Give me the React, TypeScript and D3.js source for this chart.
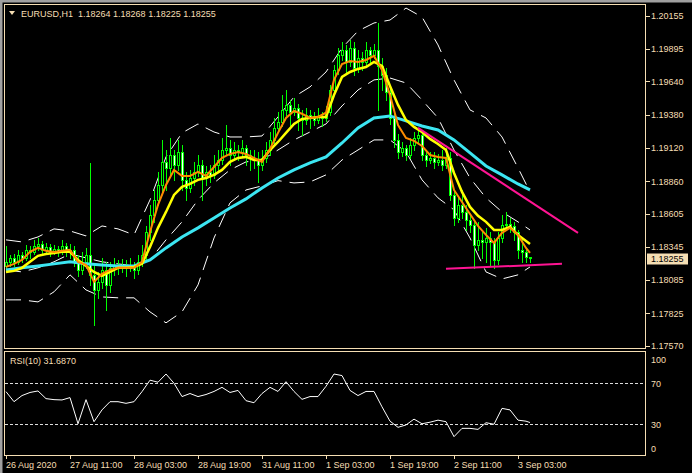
import React from 'react';
import * as d3 from 'd3';

// EURUSD H1, 132 bars from 26 Aug 2020 19:00 to 3 Sep 2020 06:00
const lastBar = 131;

const open = [
  1.18195, 1.18227, 1.18258, 1.18227, 1.18281, 1.18258, 1.18321, 1.18305, 1.18352, 1.18367,
  1.18321, 1.18344, 1.18305, 1.18328, 1.18305, 1.18352, 1.18305, 1.18321, 1.18227, 1.18164,
  1.18227, 1.18281, 1.18125, 1.18007, 1.18070, 1.18164, 1.18046, 1.18180, 1.18195, 1.18180,
  1.18195, 1.18180, 1.18203, 1.18164, 1.18227, 1.18281, 1.18461, 1.18595, 1.18712, 1.18829,
  1.19010, 1.18963, 1.19064, 1.18986, 1.19088, 1.18869, 1.18806, 1.18884, 1.18931, 1.18986,
  1.18884, 1.18931, 1.18908, 1.18986, 1.19025, 1.19103, 1.19119, 1.19064, 1.19103, 1.19088,
  1.19119, 1.19064, 1.19041, 1.19025, 1.18986, 1.19041, 1.19103, 1.19182, 1.19276, 1.19323,
  1.19417, 1.19456, 1.19401, 1.19432, 1.19354, 1.19338, 1.19378, 1.19354, 1.19338, 1.19370,
  1.19354, 1.19401, 1.19573, 1.19730, 1.19847, 1.19887, 1.19793, 1.19902, 1.19746, 1.19824,
  1.19793, 1.19887, 1.19847, 1.19887, 1.19761, 1.19691, 1.19558, 1.19354, 1.19182, 1.19088,
  1.19119, 1.19064, 1.19143, 1.19197, 1.19221, 1.19064, 1.19025, 1.19041, 1.19010, 1.19025,
  1.18986, 1.19041, 1.18751, 1.18571, 1.18673, 1.18618, 1.18555, 1.18516, 1.18360, 1.18399,
  1.18383, 1.18414, 1.18383, 1.18242, 1.18414, 1.18516, 1.18524, 1.18508, 1.18461, 1.18321,
  1.18305, 1.18264,
];
const high = [
  1.18352, 1.18281, 1.18289, 1.18321, 1.18305, 1.18360, 1.18352, 1.18399, 1.18414, 1.18391,
  1.18375, 1.18367, 1.18360, 1.18352, 1.18399, 1.18375, 1.18367, 1.18352, 1.18281, 1.18305,
  1.18336, 1.19002, 1.18203, 1.18148, 1.18258, 1.18227, 1.18227, 1.18258, 1.18242, 1.18250,
  1.18242, 1.18258, 1.18227, 1.18281, 1.18360, 1.18508, 1.18673, 1.18790, 1.18931, 1.19182,
  1.19103, 1.19197, 1.19103, 1.19182, 1.19143, 1.18931, 1.18947, 1.19010, 1.19064, 1.19025,
  1.18978, 1.18986, 1.19064, 1.19103, 1.19197, 1.19299, 1.19182, 1.19166, 1.19143, 1.19182,
  1.19143, 1.19103, 1.19103, 1.19088, 1.19103, 1.19166, 1.19244, 1.19354, 1.19401, 1.19534,
  1.19573, 1.19495, 1.19511, 1.19464, 1.19417, 1.19432, 1.19417, 1.19401, 1.19432, 1.19401,
  1.19448, 1.19612, 1.19769, 1.19902, 1.19949, 1.19926, 1.19965, 1.19949, 1.19887, 1.19871,
  1.19949, 1.19910, 1.19934, 1.20098, 1.19824, 1.19746, 1.19589, 1.19401, 1.19229, 1.19166,
  1.19143, 1.19197, 1.19244, 1.19276, 1.19244, 1.19103, 1.19088, 1.19088, 1.19072, 1.19103,
  1.19119, 1.19088, 1.18790, 1.18743, 1.18790, 1.18673, 1.18595, 1.18540, 1.18540, 1.18477,
  1.18493, 1.18461, 1.18414, 1.18461, 1.18595, 1.18618, 1.18571, 1.18540, 1.18477, 1.18414,
  1.18336, 1.18268,
];
const low = [
  1.18164, 1.18195, 1.18195, 1.18211, 1.18227, 1.18242, 1.18258, 1.18289, 1.18321, 1.18281,
  1.18305, 1.18274, 1.18289, 1.18274, 1.18289, 1.18274, 1.18258, 1.18195, 1.18117, 1.18133,
  1.18180, 1.18046, 1.17733, 1.17945, 1.18023, 1.17851, 1.17992, 1.18125, 1.18133, 1.18148,
  1.18117, 1.18156, 1.18101, 1.18133, 1.18195, 1.18250, 1.18399, 1.18540, 1.18673, 1.18775,
  1.18790, 1.18908, 1.18869, 1.18947, 1.18790, 1.18712, 1.18775, 1.18829, 1.18900, 1.18712,
  1.18829, 1.18853, 1.18884, 1.18931, 1.18994, 1.19064, 1.18986, 1.19025, 1.19025, 1.19056,
  1.18986, 1.18947, 1.18963, 1.18853, 1.18947, 1.19010, 1.19064, 1.19143, 1.19244, 1.19291,
  1.19378, 1.19299, 1.19378, 1.19260, 1.19221, 1.19307, 1.19276, 1.19299, 1.19315, 1.19291,
  1.19331, 1.19378, 1.19534, 1.19699, 1.19808, 1.19714, 1.19761, 1.19691, 1.19714, 1.19730,
  1.19761, 1.19793, 1.19824, 1.19417, 1.19573, 1.19495, 1.19307, 1.19127, 1.19041, 1.19056,
  1.19025, 1.19041, 1.19103, 1.19166, 1.19025, 1.18978, 1.19002, 1.18963, 1.18986, 1.18947,
  1.18963, 1.18712, 1.18516, 1.18540, 1.18571, 1.18477, 1.18461, 1.18180, 1.18321, 1.18258,
  1.18227, 1.18195, 1.18180, 1.18211, 1.18383, 1.18493, 1.18461, 1.18399, 1.18258, 1.18227,
  1.18227, 1.18225,
];
const close = [
  1.18227, 1.18258, 1.18227, 1.18281, 1.18258, 1.18321, 1.18305, 1.18352, 1.18367, 1.18321,
  1.18344, 1.18305, 1.18328, 1.18305, 1.18352, 1.18305, 1.18321, 1.18227, 1.18164, 1.18227,
  1.18281, 1.18125, 1.18007, 1.18070, 1.18164, 1.18046, 1.18180, 1.18195, 1.18180, 1.18195,
  1.18180, 1.18203, 1.18164, 1.18227, 1.18281, 1.18461, 1.18595, 1.18712, 1.18829, 1.19010,
  1.18963, 1.19064, 1.18986, 1.19088, 1.18869, 1.18806, 1.18884, 1.18931, 1.18986, 1.18884,
  1.18931, 1.18908, 1.18986, 1.19025, 1.19103, 1.19119, 1.19064, 1.19103, 1.19088, 1.19119,
  1.19064, 1.19041, 1.19025, 1.18986, 1.19041, 1.19103, 1.19182, 1.19276, 1.19323, 1.19417,
  1.19456, 1.19401, 1.19432, 1.19354, 1.19338, 1.19378, 1.19354, 1.19338, 1.19370, 1.19354,
  1.19401, 1.19573, 1.19730, 1.19847, 1.19887, 1.19793, 1.19902, 1.19746, 1.19824, 1.19793,
  1.19887, 1.19847, 1.19887, 1.19761, 1.19691, 1.19558, 1.19354, 1.19182, 1.19088, 1.19119,
  1.19064, 1.19143, 1.19197, 1.19221, 1.19064, 1.19025, 1.19041, 1.19010, 1.19025, 1.18986,
  1.19041, 1.18751, 1.18571, 1.18673, 1.18618, 1.18555, 1.18516, 1.18360, 1.18399, 1.18383,
  1.18414, 1.18383, 1.18242, 1.18414, 1.18516, 1.18524, 1.18508, 1.18461, 1.18321, 1.18305,
  1.18264, 1.18255,
];

// moving averages, read every 2nd bar
const maBars = [...d3.range(0, lastBar, 2), lastBar];
const fastMa = [
  1.18187, 1.18211, 1.18242, 1.18305, 1.18336, 1.18313, 1.18305, 1.18313, 1.18321, 1.18227,
  1.18203, 1.18070, 1.18133, 1.18164, 1.18180, 1.18180, 1.18180, 1.18227, 1.18461, 1.18673,
  1.18829, 1.18947, 1.18900, 1.18900, 1.18931, 1.18900, 1.18970, 1.19041, 1.19072, 1.19088,
  1.19072, 1.19041, 1.19010, 1.19111, 1.19237, 1.19354, 1.19409, 1.19387, 1.19354, 1.19362,
  1.19395, 1.19652, 1.19777, 1.19800, 1.19793, 1.19808, 1.19840, 1.19730, 1.19534, 1.19299,
  1.19197, 1.19174, 1.19135, 1.19064, 1.19049, 1.19041, 1.18790, 1.18696, 1.18602, 1.18508,
  1.18438, 1.18375, 1.18454, 1.18493, 1.18438, 1.18336, 1.18297,
];
const slowMa = [
  1.18148, 1.18156, 1.18180, 1.18227, 1.18274, 1.18289, 1.18297, 1.18305, 1.18305, 1.18242,
  1.18195, 1.18148, 1.18117, 1.18148, 1.18180, 1.18180, 1.18187, 1.18211, 1.18344, 1.18493,
  1.18618, 1.18751, 1.18814, 1.18837, 1.18869, 1.18884, 1.18908, 1.18947, 1.19010, 1.19041,
  1.19049, 1.19025, 1.19025, 1.19103, 1.19166, 1.19237, 1.19307, 1.19346, 1.19354, 1.19362,
  1.19362, 1.19534, 1.19675, 1.19714, 1.19738, 1.19753, 1.19793, 1.19761, 1.19605, 1.19456,
  1.19338, 1.19284, 1.19244, 1.19190, 1.19150, 1.19103, 1.18923, 1.18775, 1.18657, 1.18587,
  1.18540, 1.18477, 1.18477, 1.18501, 1.18438, 1.18391, 1.18367,
];

// long MA and Bollinger bands, read every 4th bar
const bandBars = [...d3.range(0, 129, 4), lastBar];
const longMa = [
  1.18164, 1.18180, 1.18195, 1.18211, 1.18227, 1.18211, 1.18203, 1.18195, 1.18195, 1.18242,
  1.18336, 1.18422, 1.18493, 1.18571, 1.18649, 1.18720, 1.18806, 1.18884, 1.18947, 1.19002,
  1.19049, 1.19158, 1.19276, 1.19354, 1.19370, 1.19331, 1.19291, 1.19260, 1.19182, 1.19080,
  1.18978, 1.18908, 1.18837, 1.18790,
];
const bandUpper = [
  1.18399, 1.18383, 1.18422, 1.18485, 1.18469, 1.18430, 1.18508, 1.18485, 1.18438, 1.18712,
  1.19049, 1.19237, 1.19307, 1.19244, 1.19205, 1.19205, 1.19213, 1.19362, 1.19519, 1.19597,
  1.19714, 1.19902, 1.20035, 1.20098, 1.20121, 1.20215, 1.20145, 1.19926, 1.19652, 1.19417,
  1.19354, 1.19205, 1.18963, 1.18775,
];
const bandMiddle = [
  1.18164, 1.18148, 1.18180, 1.18227, 1.18289, 1.18258, 1.18227, 1.18211, 1.18195, 1.18242,
  1.18399, 1.18540, 1.18712, 1.18845, 1.18947, 1.19010, 1.19025, 1.19103, 1.19182, 1.19244,
  1.19307, 1.19448, 1.19573, 1.19652, 1.19667, 1.19628, 1.19495, 1.19354, 1.19103, 1.18884,
  1.18728, 1.18618, 1.18540, 1.18477,
];
const bandLower = [
  1.17929, 1.17929, 1.17913, 1.17992, 1.18125, 1.18007, 1.17952, 1.17945, 1.17945, 1.17835,
  1.17749, 1.17835, 1.18046, 1.18414, 1.18689, 1.18790, 1.18822, 1.18863, 1.18845, 1.18853,
  1.18908, 1.19025, 1.19103, 1.19182, 1.19182, 1.19088, 1.18869, 1.18728, 1.18634, 1.18414,
  1.18148, 1.18093, 1.18125, 1.18187,
];

// RSI(10), every 2nd bar
const rsi = [
  61.8, 52, 58, 61, 62.5, 55, 54, 53.7, 56, 30.5,
  54, 32.5, 44, 52, 52, 50.4, 52, 61.8, 73, 71,
  79, 70, 57, 60, 57, 59, 62, 66, 61, 63,
  53, 51, 60, 66, 62, 71.5, 62, 54.3, 57, 57,
  67, 79, 77.5, 63, 58, 62, 62, 47, 33, 27,
  29.3, 35, 30.5, 32, 34, 32.5, 17.9, 26, 26, 25,
  31.5, 30, 45.5, 44, 34, 33, 31.687,
];
const rsiLevels = [70, 30];
const rsiLabels = [100, 70, 30, 0];

// hand-drawn trend lines: [bar, price]
const trendFalling = [[103, 1.19276], [143, 1.18454]];
const trendSupport = [[110, 1.18172], [139, 1.18211]];

const priceTicks = [1.20155, 1.19895, 1.1964, 1.1938, 1.1912, 1.1886, 1.18605, 1.18345, 1.18085, 1.17825, 1.1757];
const timeLabels = ['26 Aug 2020', '27 Aug 11:00', '28 Aug 03:00', '28 Aug 19:00', '31 Aug 11:00', '1 Sep 03:00', '1 Sep 19:00', '2 Sep 11:00', '3 Sep 03:00'];
const timeLabelBars = [0, 16, 32, 48, 64, 80, 96, 112, 128];

const FG = '#F5DEB3';
const FONT = "'Liberation Sans', Arial, sans-serif";

export default function App() {
  const x = d3.scaleLinear().domain([0, lastBar]).range([6, 530]);
  const y = d3.scaleLinear().domain([1.1757, 1.20155]).range([345.7, 15.7]);
  const yRsi = d3.scaleLinear().domain([0, 100]).range([455, 352.5]);

  const path = (bars: number[], vals: number[], sy: (v: number) => number) =>
    d3.line<number>().x((_, i) => x(bars[i])).y(d => sy(d))(vals) || '';

  const trend = (pts: number[][]) =>
    d3.line<number[]>().x(d => x(d[0])).y(d => y(d[1]))(pts) || '';

  const last = close[lastBar];

  return (
    <svg
      width={692}
      height={473}
      style={{ position: 'absolute', left: 0, top: 0, display: 'block', background: '#000' }}
      fontFamily={FONT}
      fontSize={9}
    >
      <defs>
        <clipPath id='mainClip'>
          <rect x={5} y={5} width={640} height={343} />
        </clipPath>
        <clipPath id='rsiClip'>
          <rect x={5} y={352} width={640} height={103} />
        </clipPath>
      </defs>
      <rect width={692} height={473} fill='#000' />
      <rect x={0} y={0} width={692} height={2.5} fill='#a0a0a0' />
      <rect x={0} y={0} width={2.5} height={473} fill='#a0a0a0' />

      {/* main window */}
      <g clipPath='url(#mainClip)'>
        {[bandUpper, bandMiddle, bandLower].map((b, k) => (
          <path key={k} d={path(bandBars, b, y)} fill='none' stroke='#fff' strokeWidth={1} strokeDasharray='15 8' />
        ))}
        {close.map((c, i) => {
          const cx = Math.round(x(i));
          const o = open[i];
          const top = Math.round(y(Math.max(o, c)));
          const bot = Math.round(y(Math.min(o, c)));
          const bear = c < o;
          return (
            <g key={i} shapeRendering='crispEdges'>
              <line x1={cx + 0.5} x2={cx + 0.5} y1={Math.round(y(high[i]))} y2={Math.round(y(low[i])) + 1} stroke='#00ff00' />
              {bot - top < 1 ? (
                <line x1={cx - 1} x2={cx + 2} y1={top + 0.5} y2={top + 0.5} stroke='#00ff00' />
              ) : (
                <rect x={cx - 0.5} y={top + 0.5} width={2} height={bot - top} fill={bear ? '#fff' : '#000'} stroke='#00ff00' />
              )}
            </g>
          );
        })}
        <path d={path(bandBars, longMa, y)} fill='none' stroke='#3ce6f2' strokeWidth={3} />
        <path d={path(maBars, slowMa, y)} fill='none' stroke='#ffff00' strokeWidth={2.5} />
        <path d={path(maBars, fastMa, y)} fill='none' stroke='#ff8c00' strokeWidth={2} />
        <path d={trend(trendFalling)} fill='none' stroke='#ff1493' strokeWidth={2} />
        <path d={trend(trendSupport)} fill='none' stroke='#ff1493' strokeWidth={2} />
      </g>

      {/* title */}
      <path d='M9,11 L15,11 L12,15 Z' fill={FG} />
      <text x={21} y={17} fill={FG}>
        EURUSD,H1{'\u00a0\u00a0'}{open[lastBar].toFixed(5)} {high[lastBar].toFixed(5)} {low[lastBar].toFixed(5)} {last.toFixed(5)}
      </text>

      {/* price axis */}
      {priceTicks.map(v => (
        <g key={v}>
          <line x1={646} x2={650} y1={Math.round(y(v)) + 0.5} y2={Math.round(y(v)) + 0.5} stroke={FG} />
          <text x={651} y={y(v) + 3.5} fill={FG}>{v.toFixed(5)}</text>
        </g>
      ))}
      <rect x={647} y={253.5} width={41} height={11} fill={FG} />
      <text x={651} y={y(last) + 3.5} fill='#000'>{last.toFixed(5)}</text>

      {/* RSI window */}
      {rsiLevels.map(l => (
        <line key={l} x1={5} x2={645} y1={Math.round(yRsi(l)) + 0.5} y2={Math.round(yRsi(l)) + 0.5} stroke='#ddd' strokeDasharray='3 2' />
      ))}
      <g clipPath='url(#rsiClip)'>
        <path d={path(maBars, rsi, yRsi)} fill='none' stroke='#fff' strokeWidth={1} />
      </g>
      <text x={10} y={364} fill={FG}>RSI(10) {rsi[rsi.length - 1].toFixed(4)}</text>
      {rsiLabels.map(l => (
        <text key={l} x={651} y={Math.min(448, Math.max(359, yRsi(l))) + 3.5} fill={FG}>{l}</text>
      ))}

      {/* frames */}
      <rect x={4.5} y={4.5} width={641} height={344} fill='none' stroke={FG} />
      <rect x={4.5} y={351.5} width={641} height={104} fill='none' stroke={FG} />

      {/* time axis */}
      {timeLabels.map((t, k) => {
        const tx = Math.round(x(timeLabelBars[k]));
        return (
          <g key={t}>
            <line x1={tx + 0.5} x2={tx + 0.5} y1={456} y2={459} stroke={FG} />
            <text x={tx} y={468} fill={FG}>{t}</text>
          </g>
        );
      })}
    </svg>
  );
}
